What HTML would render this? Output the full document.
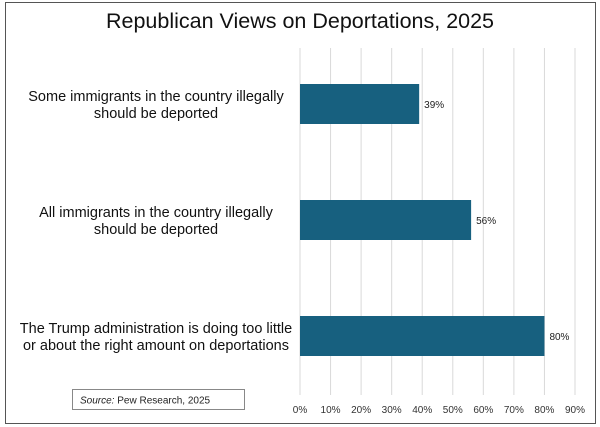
<!DOCTYPE html>
<html><head><meta charset="utf-8"><style>
body{margin:0;background:#fff;}
svg{display:block;font-family:"Liberation Sans",Arial,sans-serif;}
</style></head><body>
<svg id="chart" width="600" height="427" xmlns="http://www.w3.org/2000/svg">
<rect x="5.5" y="2.5" width="590" height="421" fill="#fff" stroke="#555" stroke-width="1"/>
<text x="300" y="28" text-anchor="middle" font-size="21.5" fill="#111">Republican Views on Deportations, 2025</text>
<g id="grid"></g>
<g id="bars"></g>
<g id="labels"></g>
<rect x="72.5" y="389.5" width="172" height="20" fill="#fff" stroke="#888"/>
<text x="80" y="403.5" font-size="10" fill="#222"><tspan font-style="italic">Source:</tspan> Pew Research, 2025</text>
</svg>
<script>
const categories=[["Some immigrants in the country illegally","should be deported"],["All immigrants in the country illegally","should be deported"],["The Trump administration is doing too little","or about the right amount on deportations"]];
const values=[39,56,80];
const valueLabels=["39%","56%","80%"];
const ticks=[0,10,20,30,40,50,60,70,80,90];
const tickLabels=["0%","10%","20%","30%","40%","50%","60%","70%","80%","90%"];
const NS="http://www.w3.org/2000/svg";
const x0=300,x90=575;
function xs(v){return x0+(x90-x0)*v/90;}
const bandTop=48,bandH=116;
function yc(i){return bandTop+bandH*i+bandH/2-2;}
const grid=document.getElementById('grid'),bars=document.getElementById('bars'),labels=document.getElementById('labels');
function mk(t,a,p){const e=document.createElementNS(NS,t);for(const k in a)e.setAttribute(k,a[k]);p.appendChild(e);return e;}
ticks.forEach((t,i)=>{
 const l=mk('line',{x1:xs(t),x2:xs(t),y1:48,y2:395,stroke:'#d9d9d9','stroke-width':1},grid);
 
 
 const tx=mk('text',{x:xs(t),y:413,'text-anchor':'middle','font-size':10,fill:'#333'},labels);
 tx.textContent=tickLabels[i];
 
 
});
values.forEach((v,i)=>{
 const c=yc(i);
 const r=mk('rect',{x:xs(0),y:c-20,width:xs(v)-xs(0),height:40,fill:'#17607f'},bars);
 
 
 const vl=mk('text',{x:xs(v)+5,y:c+4,'font-size':10,fill:'#222'},labels);
 vl.textContent=valueLabels[i];
 
 
 const cl=mk('text',{x:156,'text-anchor':'middle','font-size':14.5,fill:'#111'},labels);
 
 
 categories[i].forEach((ln,j)=>{const ts=mk('tspan',{x:156,y:c-3+j*17},cl);ts.textContent=ln;});
});
</script>
</body></html>
